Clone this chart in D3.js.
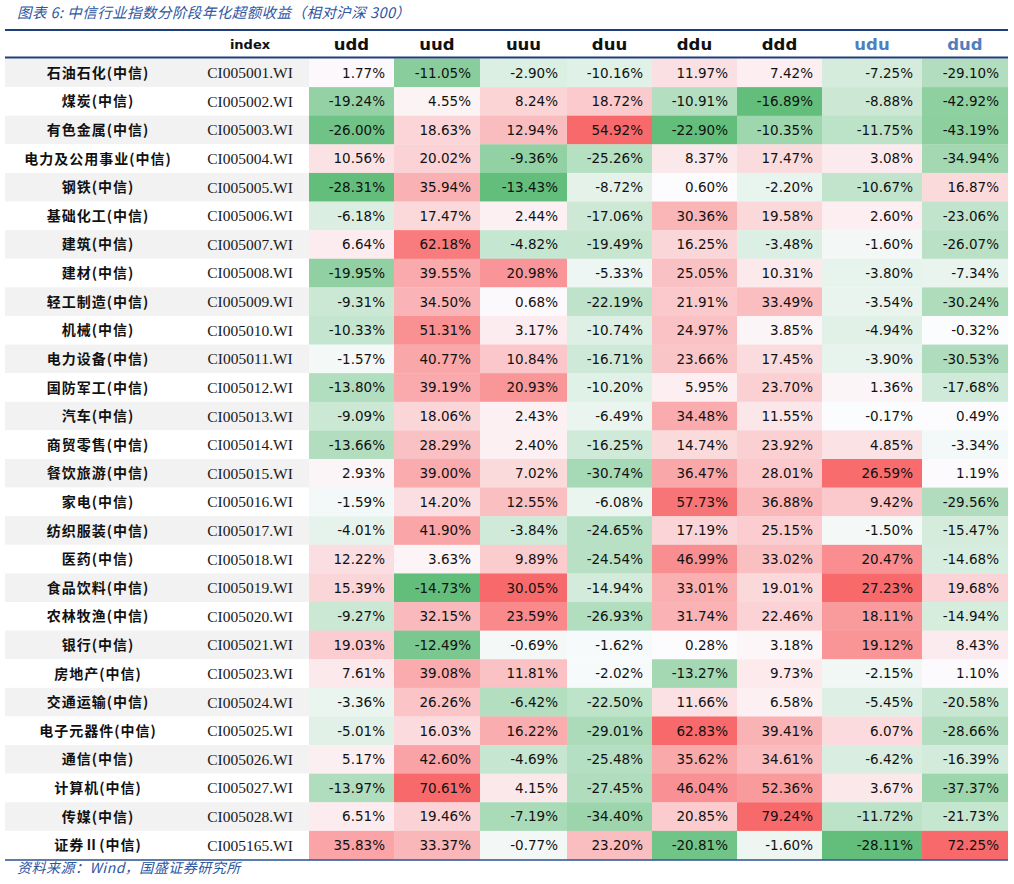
<!DOCTYPE html>
<html><head><meta charset="utf-8">
<script src="https://cdn.jsdelivr.net/npm/d3@7"></script>
<style>body{margin:0;background:#fff}svg{display:block}</style>
</head><body>
<script>
// ---------- DATA ----------
const titleText = "图表 6:  中信行业指数分阶段年化超额收益（相对沪深 300）";
const sourceText = "资料来源：Wind，国盛证券研究所";
const indexHeader = "index";
const columns = ["udd","uud","uuu","duu","ddu","ddd","udu","dud"];
const rowNames = ["石油石化(中信)","煤炭(中信)","有色金属(中信)","电力及公用事业(中信)","钢铁(中信)","基础化工(中信)","建筑(中信)","建材(中信)","轻工制造(中信)","机械(中信)","电力设备(中信)","国防军工(中信)","汽车(中信)","商贸零售(中信)","餐饮旅游(中信)","家电(中信)","纺织服装(中信)","医药(中信)","食品饮料(中信)","农林牧渔(中信)","银行(中信)","房地产(中信)","交通运输(中信)","电子元器件(中信)","通信(中信)","计算机(中信)","传媒(中信)","证券Ⅱ(中信)"];
const indexCodes = ["CI005001.WI","CI005002.WI","CI005003.WI","CI005004.WI","CI005005.WI","CI005006.WI","CI005007.WI","CI005008.WI","CI005009.WI","CI005010.WI","CI005011.WI","CI005012.WI","CI005013.WI","CI005014.WI","CI005015.WI","CI005016.WI","CI005017.WI","CI005018.WI","CI005019.WI","CI005020.WI","CI005021.WI","CI005023.WI","CI005024.WI","CI005025.WI","CI005026.WI","CI005027.WI","CI005028.WI","CI005165.WI"];
const udd = [1.77,-19.24,-26.00,10.56,-28.31,-6.18,6.64,-19.95,-9.31,-10.33,-1.57,-13.80,-9.09,-13.66,2.93,-1.59,-4.01,12.22,15.39,-9.27,19.03,7.61,-3.36,-5.01,5.17,-13.97,6.51,35.83];
const uud = [-11.05,4.55,18.63,20.02,35.94,17.47,62.18,39.55,34.50,51.31,40.77,39.19,18.06,28.29,39.00,14.20,41.90,3.63,-14.73,32.15,-12.49,39.08,26.26,16.03,42.60,70.61,19.46,33.37];
const uuu = [-2.90,8.24,12.94,-9.36,-13.43,2.44,-4.82,20.98,0.68,3.17,10.84,20.93,2.43,2.40,7.02,12.55,-3.84,9.89,30.05,23.59,-0.69,11.81,-6.42,16.22,-4.69,4.15,-7.19,-0.77];
const duu = [-10.16,18.72,54.92,-25.26,-8.72,-17.06,-19.49,-5.33,-22.19,-10.74,-16.71,-10.20,-6.49,-16.25,-30.74,-6.08,-24.65,-24.54,-14.94,-26.93,-1.62,-2.02,-22.50,-29.01,-25.48,-27.45,-34.40,23.20];
const ddu = [11.97,-10.91,-22.90,8.37,0.60,30.36,16.25,25.05,21.91,24.97,23.66,5.95,34.48,14.74,36.47,57.73,17.19,46.99,33.01,31.74,0.28,-13.27,11.66,62.83,35.62,46.04,20.85,-20.81];
const ddd = [7.42,-16.89,-10.35,17.47,-2.20,19.58,-3.48,10.31,33.49,3.85,17.45,23.70,11.55,23.92,28.01,36.88,25.15,33.02,19.01,22.46,3.18,9.73,6.58,39.41,34.61,52.36,79.24,-1.60];
const udu = [-7.25,-8.88,-11.75,3.08,-10.67,2.60,-1.60,-3.80,-3.54,-4.94,-3.90,1.36,-0.17,4.85,26.59,9.42,-1.50,20.47,27.23,18.11,19.12,-2.15,-5.45,6.07,-6.42,3.67,-11.72,-28.11];
const dud = [-29.10,-42.92,-43.19,-34.94,16.87,-23.06,-26.07,-7.34,-30.24,-0.32,-30.53,-17.68,0.49,-3.34,1.19,-29.56,-15.47,-14.68,19.68,-14.94,8.43,1.10,-20.58,-28.66,-16.39,-37.37,-21.73,72.25];
const seriesValues = {udd,uud,uuu,duu,ddu,ddd,udu,dud};
// colour-scale ends per column
const colorLow  = [-28.31,-14.73,-13.43,-55,-22.90,-16.89,-28.11,-60];
const colorHigh = [60,70.61,30.05,54.92,62.83,79.24,27.23,72.25];

// ---------- LAYOUT ----------
const W = 1014, H = 884;
const colEdges = [5,185,309,394,480,567,652,737,822,922,1008];
const tableTop = 30, headerBottom = 58.5, bodyBottom = 859.5;
const svg = d3.select("body").append("svg").attr("width", W).attr("height", H);

const allCols = ["name","index"].concat(columns);
const xLeft = d3.scaleOrdinal().domain(allCols).range(colEdges.slice(0, -1));
const xRight = d3.scaleOrdinal().domain(allCols).range(colEdges.slice(1));
const y = d3.scaleBand().domain(d3.range(rowNames.length)).range([headerBottom, bodyBottom]).padding(0);

// title
svg.append("text").attr("x", 17).attr("y", 18)
  .attr("font-family", "'Noto Sans CJK SC'").attr("font-style", "italic")
  .attr("font-size", 14.5).attr("letter-spacing", 0.45).attr("fill", "#2d56a3").text(titleText);

// row backgrounds (alternating grey) for label columns
svg.append("g").selectAll("rect").data(d3.range(rowNames.length)).join("rect")
  .attr("x", xLeft("name")).attr("width", xLeft(columns[0]) - xLeft("name"))
  .attr("y", i => y(i)).attr("height", y.bandwidth())
  .attr("fill", i => i % 2 === 0 ? "#f2f2f2" : "#ffffff");

// heat cells
const cells = [];
columns.forEach((c, ci) => {
  const color = d3.scaleLinear().domain([colorLow[ci], 0, colorHigh[ci]])
    .range(["#63BE7B", "#FCFCFF", "#F8696B"]).clamp(true);
  seriesValues[c].forEach((v, ri) => cells.push({c, ri, v, fill: color(v)}));
});
const cg = svg.append("g");
cg.selectAll("rect").data(cells).join("rect")
  .attr("x", d => xLeft(d.c)).attr("width", d => xRight(d.c) - xLeft(d.c))
  .attr("y", d => y(d.ri)).attr("height", y.bandwidth() + 0.3)
  .attr("fill", d => d.fill);
cg.selectAll("text").data(cells).join("text")
  .attr("x", d => xRight(d.c) - 9).attr("y", d => y(d.ri) + y.bandwidth() / 2)
  .attr("dy", "0.36em").attr("text-anchor", "end")
  .attr("font-family", "'DejaVu Sans'").attr("font-size", 13.5).attr("fill", "#111")
  .text(d => d.v.toFixed(2) + "%");

// name column
svg.append("g").selectAll("text").data(rowNames).join("text")
  .attr("x", 98).attr("y", (d, i) => y(i) + y.bandwidth() / 2).attr("dy", "0.36em")
  .attr("text-anchor", "middle").attr("font-family", "'Noto Sans CJK SC'")
  .attr("font-weight", 700).attr("font-size", 14).attr("letter-spacing", 1)
  .attr("fill", "#111").text(d => d);

// index column
svg.append("g").selectAll("text").data(indexCodes).join("text")
  .attr("x", (xLeft("index") + xRight("index")) / 2 + 3).attr("y", (d, i) => y(i) + y.bandwidth() / 2).attr("dy", "0.35em")
  .attr("text-anchor", "middle").attr("font-family", "'Liberation Serif'")
  .attr("font-size", 15.5).attr("fill", "#1a1a1a").text(d => d);

// headers
const hy = (tableTop + headerBottom) / 2;
svg.append("text").attr("x", (xLeft("index") + xRight("index")) / 2 + 3).attr("y", hy).attr("dy", "0.36em")
  .attr("text-anchor", "middle").attr("font-family", "'DejaVu Sans'").attr("font-weight", 700)
  .attr("font-size", 13).attr("fill", "#111").text(indexHeader);
svg.append("g").selectAll("text").data(columns).join("text")
  .attr("x", c => (xLeft(c) + xRight(c)) / 2).attr("y", hy).attr("dy", "0.36em")
  .attr("text-anchor", "middle").attr("font-family", "'DejaVu Sans'").attr("font-weight", 700)
  .attr("font-size", 16.5).attr("fill", c => (c === "udu" || c === "dud") ? "#4f7fbe" : "#111").text(c => c);

// rules
const x0 = colEdges[0], x1 = colEdges[colEdges.length - 1];
svg.append("line").attr("x1", x0).attr("x2", x1).attr("y1", tableTop).attr("y2", tableTop)
  .attr("stroke", "#1f3f7a").attr("stroke-width", 2);
svg.append("line").attr("x1", x0).attr("x2", x1).attr("y1", headerBottom - 1).attr("y2", headerBottom - 1)
  .attr("stroke", "#1f3f7a").attr("stroke-width", 2);
svg.append("line").attr("x1", x0).attr("x2", x1).attr("y1", bodyBottom + 0.5).attr("y2", bodyBottom + 0.5)
  .attr("stroke", "#2a4f8f").attr("stroke-width", 1.3);

// source
svg.append("text").attr("x", 17).attr("y", 868).attr("dy", "0.36em")
  .attr("font-family", "'Noto Sans CJK SC'").attr("font-style", "italic")
  .attr("font-size", 14).attr("letter-spacing", 0.5).attr("fill", "#2d56a3").text(sourceText);
</script>
</body></html>
